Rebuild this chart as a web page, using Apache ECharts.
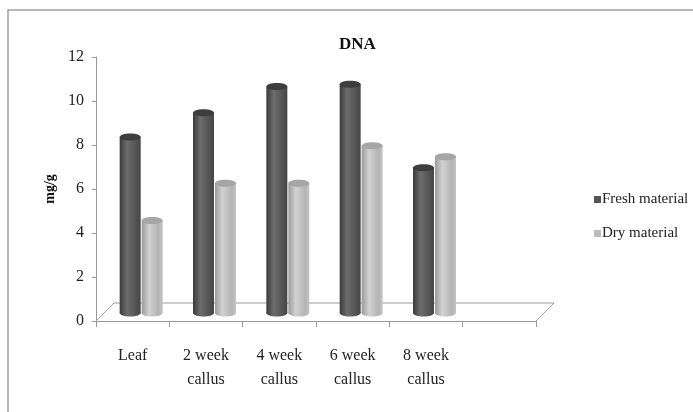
<!DOCTYPE html>
<html>
<head>
<meta charset="utf-8">
<script src="https://cdn.jsdelivr.net/npm/echarts@6/dist/echarts.min.js"></script>
<style>
  html, body { margin: 0; padding: 0; background: #fff; }
  #chart { width: 693px; height: 412px; }
</style>
</head>
<body>
<div id="chart"></div>
<script>
// Categories (the last slot of the 3-D floor is left empty)
const categories = ['Leaf', '2 week\ncallus', '4 week\ncallus', '6 week\ncallus', '8 week\ncallus', ''];
// DNA content, mg/g
const freshValues = [8.0, 9.1, 10.3, 10.4, 6.6];
const dryValues = [4.2, 5.9, 5.9, 7.6, 7.1];
const yTicks = { min: 0, max: 12, interval: 2 };

const SERIF = '"Liberation Serif", "Times New Roman", serif';
const FLOOR_DEPTH = 18;   // depth of the floor in pixels
const BAR_DEPTH = 8;      // cylinders stand half way into the floor
const BAR_W = 21;
const RY = 3.5;

function gradient(stops) {
  return new echarts.graphic.LinearGradient(0, 0, 1, 0, stops);
}

const styles = {
  fresh: {
    body: [
      { offset: 0, color: '#3a3a3a' },
      { offset: 0.35, color: '#6c6c6c' },
      { offset: 0.75, color: '#555555' },
      { offset: 1, color: '#444444' }
    ],
    top: '#3d3d3d',
    legend: '#555555'
  },
  dry: {
    body: [
      { offset: 0, color: '#9a9a9a' },
      { offset: 0.35, color: '#d2d2d2' },
      { offset: 0.8, color: '#b4b4b4' },
      { offset: 1, color: '#c4c4c4' }
    ],
    top: '#a6a6a6',
    legend: '#bdbdbd'
  }
};

function cylinderRenderer(side, style) {
  return function (params, api) {
    const idx = api.value(0);
    const val = api.value(1);
    const base = api.coord([idx, 0]);
    const top = api.coord([idx, val]);
    const cx = base[0] + BAR_DEPTH;
    const x0 = side === 'left' ? cx - BAR_W : cx + 1;
    const yb = base[1] - BAR_DEPTH;
    const yt = top[1] - BAR_DEPTH;
    const fill = gradient(style.body);
    return {
      type: 'group',
      children: [
        { type: 'ellipse', shape: { cx: x0 + BAR_W / 2, cy: yb, rx: BAR_W / 2, ry: RY }, style: { fill: fill } },
        { type: 'rect', shape: { x: x0, y: yt, width: BAR_W, height: yb - yt }, style: { fill: fill } },
        { type: 'ellipse', shape: { cx: x0 + BAR_W / 2, cy: yt, rx: BAR_W / 2, ry: RY }, style: { fill: style.top } }
      ]
    };
  };
}

const chart = echarts.init(document.getElementById('chart'), null, { renderer: 'canvas' });

chart.setOption({
  animation: false,
  backgroundColor: '#ffffff',
  title: {
    text: 'DNA',
    left: 334,
    top: 31,
    textStyle: { fontFamily: SERIF, fontWeight: 'bold', fontSize: 17, color: '#111' }
  },
  graphic: [{
    type: 'rect',
    shape: { x: 8, y: 10, width: 720, height: 440 },
    style: { fill: 'none', stroke: '#a0a0a0', lineWidth: 1.5 },
    silent: true
  }],
  legend: {
    orient: 'vertical',
    left: 589,
    top: 187,
    itemGap: 19,
    itemWidth: 7,
    itemHeight: 7,
    icon: 'rect',
    textStyle: { fontFamily: SERIF, fontSize: 15, color: '#222', padding: [0, 0, 0, -4] },
    data: ['Fresh material', 'Dry material']
  },
  grid: { left: 96, right: 157, top: 57, bottom: 91 },
  xAxis: {
    type: 'category',
    data: categories,
    axisLine: { lineStyle: { color: '#999', width: 1 } },
    axisTick: { show: true, interval: 0, length: 6, lineStyle: { color: '#999' } },
    axisLabel: {
      interval: 0,
      margin: 23,
      fontFamily: SERIF,
      fontSize: 16,
      lineHeight: 24,
      color: '#222'
    }
  },
  yAxis: {
    type: 'value',
    min: yTicks.min,
    max: yTicks.max,
    interval: yTicks.interval,
    name: 'mg/g',
    nameLocation: 'middle',
    nameRotate: 90,
    nameGap: 38,
    nameTextStyle: { fontFamily: SERIF, fontWeight: 'bold', fontSize: 14, color: '#111' },
    axisLine: { show: true, lineStyle: { color: '#999', width: 1 } },
    axisTick: { show: true, length: 4, lineStyle: { color: '#999' } },
    splitLine: { show: false },
    axisLabel: { fontFamily: SERIF, fontSize: 16, color: '#222', margin: 12 }
  },
  series: [
    {
      // floor outline of the 3-D plot area
      type: 'custom',
      silent: true,
      z: 1,
      data: [[0, 0]],
      renderItem: function (params, api) {
        const cs = params.coordSys;
        const yf = cs.y + cs.height;
        const xl = cs.x, xr = cs.x + cs.width;
        return {
          type: 'polyline',
          shape: {
            points: [
              [xl, yf],
              [xl + FLOOR_DEPTH, yf - FLOOR_DEPTH],
              [xr + FLOOR_DEPTH, yf - FLOOR_DEPTH],
              [xr, yf]
            ]
          },
          style: { fill: 'none', stroke: '#9a9a9a', lineWidth: 1 }
        };
      },
      tooltip: { show: false }
    },
    {
      name: 'Fresh material',
      type: 'custom',
      z: 3,
      itemStyle: { color: styles.fresh.legend },
      data: freshValues.map((v, i) => [i, v]),
      encode: { x: 0, y: 1 },
      renderItem: cylinderRenderer('left', styles.fresh)
    },
    {
      name: 'Dry material',
      type: 'custom',
      z: 3,
      itemStyle: { color: styles.dry.legend },
      data: dryValues.map((v, i) => [i, v]),
      encode: { x: 0, y: 1 },
      renderItem: cylinderRenderer('right', styles.dry)
    }
  ]
});
</script>
</body>
</html>
